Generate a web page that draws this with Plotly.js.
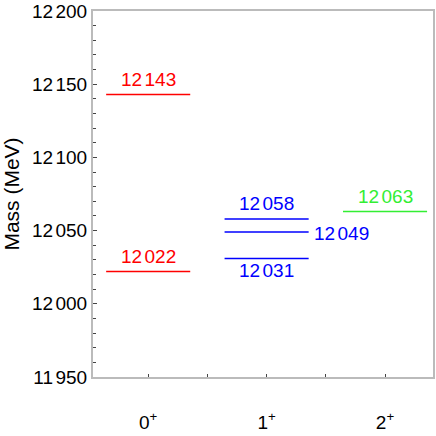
<!DOCTYPE html>
<html>
<head>
<meta charset="utf-8">
<script src="https://cdn.plot.ly/plotly-3.0.1.min.js"></script>
<style>html,body{margin:0;padding:0;background:#fff;}#chart{width:436px;height:436px;}</style>
</head>
<body>
<div id="chart"></div>
<script>
// Data
var categories = ["0<sup>+</sup>", "1<sup>+</sup>", "2<sup>+</sup>"];
var categoryPositions = [0, 1, 2];
var levelCategory = [0, 0, 1, 1, 1, 2];
var levelMass = [12143, 12022, 12058, 12049, 12031, 12063];
var levelColor = ["#ff0000", "#ff0000", "#0000ff", "#0000ff", "#0000ff", "#33ee33"];
var labelPlacement = ["above", "above", "above", "right", "below", "above"];
var yTickValues = [11950, 12000, 12050, 12100, 12150, 12200];

var halfWidth = 0.355;
var FONT = "Liberation Sans, Arial, sans-serif";
var SEP = '<span style="font-size:12px">\u2009</span>';

function fmt(v) {
  var s = String(v);
  return s.slice(0, s.length - 3) + SEP + s.slice(s.length - 3);
}

var traces = [];
var annotations = [];
for (var i = 0; i < levelMass.length; i++) {
  var c = levelCategory[i];
  traces.push({
    type: "scatter", mode: "lines",
    x: [c - halfWidth, c + halfWidth],
    y: [levelMass[i], levelMass[i]],
    line: {color: levelColor[i], width: 1.5},
    hoverinfo: "skip", showlegend: false
  });
  var ann = {
    xref: "x", yref: "y", y: levelMass[i],
    text: fmt(levelMass[i]), showarrow: false,
    font: {family: FONT, size: 19, color: levelColor[i]}
  };
  if (labelPlacement[i] === "above") {
    ann.x = c; ann.xanchor = "center"; ann.yanchor = "middle"; ann.yshift = 15;
  } else if (labelPlacement[i] === "below") {
    ann.x = c; ann.xanchor = "center"; ann.yanchor = "middle"; ann.yshift = -12;
  } else {
    ann.x = c + halfWidth; ann.xanchor = "left"; ann.yanchor = "middle"; ann.xshift = 3; ann.yshift = -1;
  }
  annotations.push(ann);
}

var layout = {
  width: 436, height: 436,
  margin: {l: 93, r: 3, t: 11, b: 59},
  paper_bgcolor: "#fff", plot_bgcolor: "#fff",
  font: {family: FONT, size: 19, color: "#000"},
  xaxis: {
    range: [-0.466, 2.405],
    tickvals: categoryPositions,
    ticktext: categories,
    ticks: "inside", ticklen: 3, tickwidth: 1, tickcolor: "#444",
    minor: {tick0: 0, dtick: 0.5, ticks: "inside", ticklen: 3, tickwidth: 1, tickcolor: "#444", showgrid: false},
    showgrid: false, zeroline: false,
    showline: true, linecolor: "#bbb", linewidth: 2, mirror: true,
    ticklabelstandoff: 27,
    tickfont: {family: FONT, size: 19, color: "#000"}
  },
  yaxis: {
    range: [11950, 12200],
    tickvals: yTickValues,
    ticktext: yTickValues.map(fmt),
    ticks: "inside", ticklen: 4, tickwidth: 1, tickcolor: "#444",
    minor: {dtick: 10, tick0: 11950, ticks: "inside", ticklen: 3, tickcolor: "#444", showgrid: false},
    showgrid: false, zeroline: false,
    showline: true, linecolor: "#bbb", linewidth: 2, mirror: true,
    ticklabelstandoff: 0,
    tickfont: {family: FONT, size: 19, color: "#000"},
    title: {text: "Mass (MeV)", font: {family: FONT, size: 21, color: "#000"}, standoff: 8}
  },
  annotations: annotations
};

Plotly.newPlot("chart", traces, layout, {staticPlot: true, displayModeBar: false});
</script>
</body>
</html>
